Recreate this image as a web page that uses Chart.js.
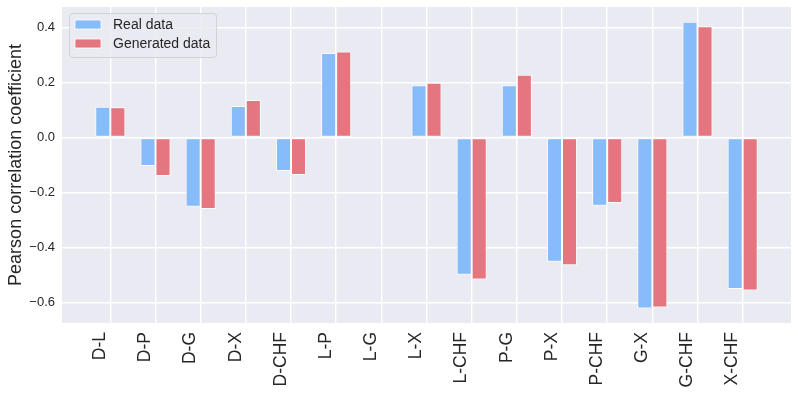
<!DOCTYPE html>
<html><head><meta charset="utf-8">
<script src="https://cdn.jsdelivr.net/npm/chart.js@4"></script>
<style>html,body{margin:0;padding:0;background:#fff}#wrap{width:798px;height:396px}</style>
</head><body><div id="wrap"><canvas id="c" width="798" height="396"></canvas></div>
<script>
const categories = ['D-L','D-P','D-G','D-X','D-CHF','L-P','L-G','L-X','L-CHF','P-G','P-X','P-CHF','G-X','G-CHF','X-CHF'];
const realData = [0.112,-0.104,-0.252,0.115,-0.122,0.308,-0.003,0.190,-0.499,0.190,-0.452,-0.248,-0.622,0.421,-0.551];
const generatedData = [0.110,-0.140,-0.260,0.137,-0.136,0.313,-0.001,0.199,-0.517,0.228,-0.465,-0.238,-0.619,0.405,-0.557];
const yTicks = [-0.6,-0.4,-0.2,0.0,0.2,0.4];
const seriesNames = ['Real data','Generated data'];
const seriesColors = ['rgb(134,188,249)','rgb(229,118,128)'];
const yTitle = 'Pearson correlation coefficient';

const FONT = '"Liberation Sans", Arial, sans-serif';
const TXT = '#262626';

const bgPlugin = {
  id: 'bg',
  beforeDraw(chart) {
    const {ctx, chartArea: a} = chart;
    ctx.save();
    ctx.fillStyle = '#eaeaf2';
    ctx.fillRect(a.left, a.top, a.right - a.left, a.bottom - a.top);
    ctx.restore();
  }
};

const legendPlugin = {
  id: 'innerLegend',
  afterDraw(chart) {
    const ctx = chart.ctx;
    const a = chart.chartArea;
    const x0 = a.left + 7, y0 = a.top + 6, w = 147, h = 44;
    ctx.save();
    ctx.beginPath();
    ctx.roundRect(x0 + 0.5, y0 + 0.5, w, h, 3);
    ctx.fillStyle = 'rgba(234,234,242,0.85)';
    ctx.fill();
    ctx.strokeStyle = 'rgba(210,210,215,1)';
    ctx.lineWidth = 1;
    ctx.stroke();
    ctx.font = '14px ' + FONT;
    ctx.textBaseline = 'middle';
    ctx.textAlign = 'left';
    chart.data.datasets.forEach((ds, i) => {
      const cy = y0 + 11.5 + i * 19;
      ctx.fillStyle = ds.backgroundColor;
      ctx.fillRect(x0 + 6, cy - 4.5, 26, 9);
      ctx.strokeStyle = 'rgba(255,255,255,0.8)';
      ctx.strokeRect(x0 + 6, cy - 4.5, 26, 9);
      ctx.fillStyle = TXT;
      ctx.fillText(ds.label, x0 + 44, cy + 0.5);
    });
    ctx.restore();
  }
};

const toPoints = arr => arr.map((v, i) => ({x: i, y: v}));

new Chart(document.getElementById('c'), {
  type: 'bar',
  data: {
    datasets: [
      {label: seriesNames[0], data: toPoints(realData), backgroundColor: seriesColors[0],
       borderColor: 'rgba(255,255,255,0.85)', borderWidth: 1, borderSkipped: false},
      {label: seriesNames[1], data: toPoints(generatedData), backgroundColor: seriesColors[1],
       borderColor: 'rgba(255,255,255,0.85)', borderWidth: 1, borderSkipped: false}
    ]
  },
  options: {
    responsive: false,
    animation: false,
    layout: {padding: {top: 7, right: 7, left: 0, bottom: 0}},
    datasets: {bar: {categoryPercentage: 0.666, barPercentage: 1.0, grouped: true}},
    plugins: {legend: {display: false}, tooltip: {enabled: false}},
    scales: {
      x: {
        type: 'linear',
        offset: false,
        min: -1.07, max: 15.07,
        afterBuildTicks(scale) { scale.ticks = categories.map((_, i) => ({value: i})); },
        afterFit(scale) { scale.height = 73; scale.paddingLeft = 0; scale.paddingRight = 0; },
        border: {display: false},
        grid: {color: '#ffffff', lineWidth: 1.4, drawTicks: false, offset: false},
        ticks: {
          autoSkip: false, maxRotation: 90, minRotation: 90, padding: 9, labelOffset: -10,
          color: TXT, font: {family: FONT, size: 17.5},
          callback: v => categories[v]
        }
      },
      y: {
        min: -0.675, max: 0.475,
        afterBuildTicks(scale) { scale.ticks = yTicks.map(v => ({value: v})); },
        afterFit(scale) { scale.width = 62; scale.paddingTop = 0; scale.paddingBottom = 0; },
        border: {display: false},
        grid: {color: '#ffffff', lineWidth: 1.4, drawTicks: false},
        ticks: {
          padding: 7, color: TXT, font: {family: FONT, size: 13},
          callback: v => v.toFixed(1).replace('-', '\u2212')
        },
        title: {display: true, text: yTitle, color: TXT, font: {family: FONT, size: 18}, padding: {top: 5, bottom: 0}}
      }
    }
  },
  plugins: [bgPlugin, legendPlugin]
});
</script></body></html>
